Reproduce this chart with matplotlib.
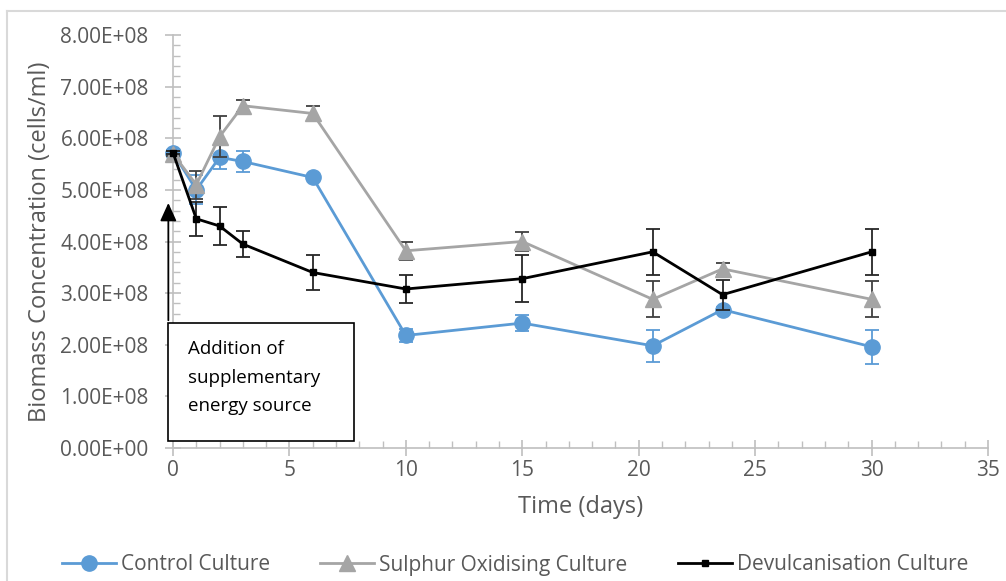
import numpy as np
import matplotlib.pyplot as plt
from matplotlib.patches import Rectangle
from matplotlib.lines import Line2D
from matplotlib.ticker import MultipleLocator, FuncFormatter

plt.rcParams['font.family'] = ['Open Sans', 'DejaVu Sans']

# sampling days
days = [0, 1, 2, 3, 6, 10, 15, 20.6, 23.6, 30]

# biomass (cells/ml) and error bars
control = [5.72e8, 5.00e8, 5.63e8, 5.55e8, 5.24e8, 2.18e8, 2.42e8, 1.98e8, 2.68e8, 1.96e8]
control_err = [0.05e8, 0.28e8, 0.23e8, 0.21e8, 0.05e8, 0.12e8, 0.15e8, 0.31e8, 0.05e8, 0.33e8]

sulphur = [5.70e8, 5.10e8, 6.03e8, 6.63e8, 6.48e8, 3.82e8, 4.00e8, 2.88e8, 3.47e8, 2.88e8]
sulphur_err = [0.05e8, 0.27e8, 0.40e8, 0.12e8, 0.15e8, 0.17e8, 0.18e8, 0.35e8, 0.12e8, 0.35e8]

devulc = [5.72e8, 4.44e8, 4.30e8, 3.95e8, 3.40e8, 3.08e8, 3.28e8, 3.80e8, 2.97e8, 3.80e8]
devulc_err = [0.03e8, 0.33e8, 0.37e8, 0.25e8, 0.33e8, 0.27e8, 0.45e8, 0.45e8, 0.29e8, 0.45e8]

blue = '#5B9BD5'
grey = '#A5A5A5'
axis_grey = '#BFBFBF'
txt = '#595959'

fig = plt.figure(figsize=(10.06, 5.81), dpi=100)
ax = fig.add_axes([173/1006, 1 - 448/581, (988-173)/1006, (448-35)/581])

ax.errorbar(days, control, yerr=control_err, color=blue, marker='o', markersize=11,
            lw=2, ecolor=blue, elinewidth=1.3, capsize=5, capthick=1.3, clip_on=False,
            label='Control Culture', zorder=3)
ax.errorbar(days, sulphur, yerr=sulphur_err, color=grey, marker='^', markersize=11,
            lw=2, ecolor='#404040', elinewidth=1.3, capsize=5, capthick=1.3, clip_on=False,
            label='Sulphur Oxidising Culture', zorder=4)
ax.errorbar(days, devulc, yerr=devulc_err, color='black', marker='s', markersize=5,
            lw=2, ecolor='#262626', elinewidth=1.3, capsize=5, capthick=1.3, clip_on=False,
            label='Devulcanisation Culture', zorder=5)

ax.set_xlim(0, 35)
ax.set_ylim(0, 8e8)
ax.xaxis.set_major_locator(MultipleLocator(5))
ax.xaxis.set_minor_locator(MultipleLocator(1))
ax.yaxis.set_major_locator(MultipleLocator(1e8))
ax.yaxis.set_minor_locator(MultipleLocator(2e7))
ax.yaxis.set_major_formatter(FuncFormatter(lambda v, p: '%.2fE+08' % (v / 1e8) if v > 0 else '0.00E+00'))

for s in ['top', 'right']:
    ax.spines[s].set_visible(False)
for s in ['left', 'bottom']:
    ax.spines[s].set_color(axis_grey)
    ax.spines[s].set_linewidth(1.2)

ax.tick_params(which='major', direction='inout', length=11, width=1.2, color=axis_grey,
               labelsize=15, labelcolor=txt)
ax.tick_params(which='minor', direction='in', length=5, width=1, color=axis_grey)
ax.tick_params(axis='y', which='major', pad=12)
ax.tick_params(axis='x', which='major', pad=3)

ax.set_xlabel('Time (days)', fontsize=17, color=txt, labelpad=10)
ax.set_ylabel('Biomass Concentration (cells/ml)', fontsize=17, color=txt, labelpad=6)

# annotation box and arrow
ax.add_patch(Rectangle((-0.22, 0.14e8), 7.99, 2.28e8, facecolor='white', edgecolor='black',
                       lw=1.2, clip_on=False, zorder=6))
ax.text(0.64, 1.36e8, 'Addition of\nsupplementary\nenergy source', fontsize=13.5, color='black',
        va='center', ha='left', linespacing=1.75, zorder=7)
ax.annotate('', xy=(-0.2, 4.8e8), xytext=(-0.2, 2.42e8),
            arrowprops=dict(arrowstyle='-|>,head_width=0.5,head_length=1.1', color='black', lw=1.3),
            annotation_clip=False, zorder=6)

handles = [Line2D([], [], color=blue, marker='o', markersize=11, lw=2),
           Line2D([], [], color=grey, marker='^', markersize=11, lw=2),
           Line2D([], [], color='black', marker='s', markersize=5, lw=2)]
fig.legend(handles, ['Control Culture', 'Sulphur Oxidising Culture', 'Devulcanisation Culture'],
           loc='center', bbox_to_anchor=(515/1006, 1 - 565/581), ncol=3, frameon=False,
           fontsize=15, labelcolor=txt, handlelength=2.6, handletextpad=0.25, columnspacing=2.4)

# chart area border (partly cut off)
fig.add_artist(Line2D([7/1006, 1], [1 - 11/581, 1 - 11/581], color='#D9D9D9', lw=1.5))
fig.add_artist(Line2D([7/1006, 7/1006], [0, 1 - 11/581], color='#D9D9D9', lw=1.5))

fig.savefig('out.png', dpi=100)
